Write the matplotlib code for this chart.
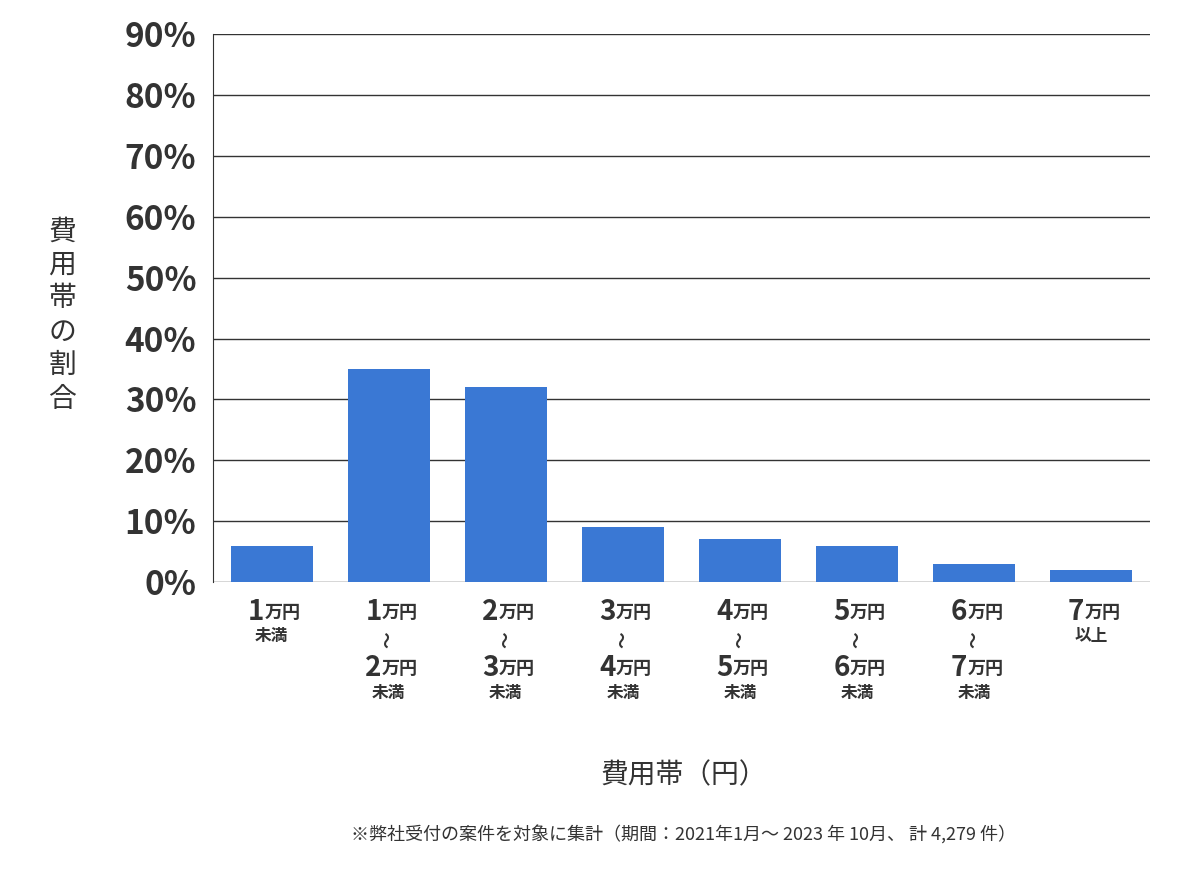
import matplotlib.pyplot as plt
import matplotlib.transforms as mtransforms

plt.rcParams['font.family'] = ['Noto Sans CJK JP', 'DejaVu Sans']

# データ
lower = ["1", "1", "2", "3", "4", "5", "6", "7"]
upper = [None, "2", "3", "4", "5", "6", "7", None]
values = [6, 35, 32, 9, 7, 6, 3, 2]
yticks = [0, 10, 20, 30, 40, 50, 60, 70, 80, 90]

fig = plt.figure(figsize=(12, 8.74), dpi=100)
ax = fig.add_axes([0.1775, 0.334, 0.7808, 0.627])

x = list(range(len(values)))
ax.bar(x, values, width=0.7, color="#3a78d4", zorder=3)

ax.set_xlim(-0.5, 7.5)
ax.set_ylim(0, 90)
ax.set_yticks(yticks)
ax.set_yticklabels([f"{v}%" for v in yticks], fontsize=24, fontweight="bold", color="#333333")
ax.yaxis.grid(True, color="#333333", linewidth=1, zorder=0)
ax.set_xticks([])
ax.tick_params(axis="y", length=0, pad=12)
for s in ["top", "right", "bottom"]:
    ax.spines[s].set_visible(False)
ax.spines["left"].set_color("#333333")

tr = mtransforms.blended_transform_factory(ax.transData, fig.transFigure)

def fy(py):
    return 1 - py / 874

def amount(xc, py, num):
    ax.text(xc - 0.06, fy(py), num, transform=tr, ha="right", va="center",
            fontsize=20, fontweight="bold", color="#333333")
    ax.text(xc - 0.06, fy(py), "万円", transform=tr, ha="left", va="center",
            fontsize=13, fontweight="bold", color="#333333")

def small(xc, py, s, rot=0):
    ax.text(xc, fy(py), s, transform=tr, ha="center", va="center",
            fontsize=12, fontweight="bold", color="#333333", rotation=rot)

for i in x:
    amount(i, 612, lower[i])
    if i == 0:
        small(i, 636, "未満")
    elif i == 7:
        small(i, 636, "以上")
    else:
        small(i, 640, "〜", rot=90)
        amount(i, 668, upper[i])
        small(i, 693, "未満")

fig.text(0.052, fy(315), "\n".join("費用帯の割合"), ha="center", va="center",
         fontsize=20, color="#333333", linespacing=1.15)
fig.text(0.57, fy(775), "費用帯（円）", ha="center", va="center", fontsize=20, color="#333333")
fig.text(0.57, fy(835), "※弊社受付の案件を対象に集計（期間：2021年1月～ 2023 年 10月、 計 4,279 件）",
         ha="center", va="center", fontsize=13, color="#333333")

fig.savefig("out.png")
